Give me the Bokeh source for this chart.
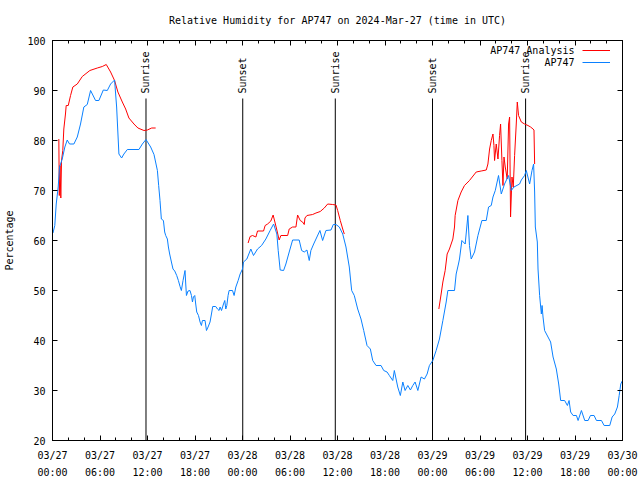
import numpy as np
import pandas as pd
from math import pi
from bokeh.plotting import figure
from bokeh.models import (Range1d, FixedTicker, DatetimeTickFormatter, DatetimeAxis,
                          LinearAxis, Legend, LegendItem, Label, ColumnDataSource)
from bokeh.core.properties import value
from bokeh.embed import file_html
from bokeh.resources import INLINE

# ---------------- data ----------------
title_text = "Relative Humidity for AP747 on 2024-Mar-27 (time in UTC)"
start_time = "2024-03-27 00:00"
span_hours = 72

# AP747 observations: hours after start, relative humidity (%)
obs_hours = [0.06, 0.29, 0.47, 0.72, 0.89, 1.23, 1.56, 1.86, 2.15, 2.70, 3.13, 3.54, 3.96, 4.39,
             4.81, 5.44, 5.86, 6.42, 6.92, 7.34, 7.84, 8.10, 8.39, 8.73, 9.02, 9.45, 10.92, 11.35,
             11.81, 12.40, 12.82, 13.25, 13.41, 13.58, 13.75, 14.01, 14.17, 14.30, 14.51, 14.64,
             14.80, 15.02, 15.22, 15.44, 15.69, 15.90, 16.11, 16.28, 16.49, 16.74, 16.83, 16.92,
             17.12, 17.37, 17.55, 17.68, 17.80, 17.97, 18.09, 18.22, 18.44, 18.64, 18.81, 18.94,
             19.27, 19.45, 19.65, 19.90, 20.08, 20.24, 20.62, 20.84, 21.04, 21.17, 21.35, 21.60,
             21.76, 21.89, 22.02, 22.18, 22.31, 22.74, 22.94, 23.16, 23.45, 23.70, 24.00, 24.13,
             24.55, 25.05, 25.39, 25.90, 26.41, 26.95, 27.49, 27.93, 28.34, 28.51, 28.76, 29.19,
             29.48, 29.90, 30.33, 31.16, 31.47, 31.80, 32.14, 32.43, 32.64, 32.99, 33.40, 33.78,
             34.12, 34.54, 35.18, 35.47, 35.81, 36.23, 36.66, 37.07, 37.49, 37.79, 38.12, 38.55,
             38.97, 39.31, 39.73, 40.15, 40.45, 40.87, 41.50, 41.84, 42.26, 42.55, 42.98, 43.18,
             43.61, 43.94, 44.25, 44.54, 44.88, 45.21, 45.51, 45.80, 46.15, 46.56, 46.98, 47.32,
             47.61, 48.04, 48.46, 48.88, 49.31, 49.73, 49.94, 50.78, 50.99, 51.28, 51.41, 51.71,
             52.13, 52.47, 52.67, 52.89, 53.31, 53.74, 54.24, 54.79, 55.08, 55.42, 55.64, 55.93,
             56.34, 56.69, 57.10, 57.61, 57.95, 58.29, 59.00, 59.22, 59.63, 59.85, 60.27, 60.57,
             60.77, 60.90, 60.99, 61.24, 61.33, 61.53, 61.75, 61.84, 61.96, 62.16, 62.59, 62.92,
             63.23, 63.64, 63.94, 64.19, 64.69, 65.04, 65.25, 65.45, 65.76, 66.18, 66.39, 66.81,
             67.23, 67.66, 67.95, 68.41, 68.71, 69.34, 69.68, 70.39, 70.69, 71.02, 71.36, 71.58,
             71.78, 72.00]
obs_rh = [61.5, 63, 67.3, 70.7, 74.7, 76.3, 78.7, 80.1, 79.3, 79.3, 80.7, 83.3, 86.7, 87.2,
          90, 88, 88, 90.1, 90, 91.3, 92.1, 86.7, 77.3, 76.5, 77.3, 78.2, 78.2, 79.3,
          80.2, 78.7, 77.2, 74, 71, 68, 64.3, 64, 61.7, 61, 60.3, 58.7,
          57.3, 55.7, 54.3, 53.9, 53, 52, 50.8, 50, 52, 54, 51.3, 49,
          49.9, 50, 49, 47.7, 48.7, 49, 47.3, 45.7, 45, 43.7, 43, 44,
          44, 42, 42.7, 43.7, 45.3, 46.8, 46.8, 46.3, 46, 46.7, 46, 47.3,
          48, 46.3, 47, 49, 50, 50, 49, 50.7, 52, 53.3, 54.3, 55.7,
          56.3, 58.3, 57, 58.3, 59, 60.3, 62, 63.3, 61.3, 58, 54.1, 54,
          55.3, 57.7, 60.1, 60.1, 58, 57.7, 58.1, 56, 58, 59.3, 60.7, 62,
          60, 62, 62.1, 63.2, 63.2, 62.7, 61.3, 58.7, 54.7, 50, 49, 46.3,
          44.3, 42, 39, 38.3, 36, 35, 35, 34, 33.7, 33, 32, 34,
          30.7, 29, 31.7, 30, 31, 30.1, 31, 31.7, 30, 32.7, 32.3, 33.3,
          35, 36, 38, 40.3, 44, 47.7, 50, 50, 53.3, 55.3, 56.3, 60,
          59.3, 65, 59, 56.3, 57.7, 61, 64, 64, 66.7, 67, 68.7, 70,
          73, 69.3, 71.3, 73, 70, 70.7, 71.3, 72.1, 73, 74, 71.3, 74,
          75.3, 69.7, 62.7, 59.7, 54.3, 49, 45.3, 47, 44.7, 42, 40.7, 39.7,
          36.7, 34.3, 31.3, 28, 28, 27, 28, 25.7, 25, 25, 24, 26,
          24, 24, 25, 25, 24, 24, 23, 23, 24.7, 25.3, 26.7, 29,
          31.3, 32]

# AP747 analysis: three separate pieces
ana1_hours = [0.80, 0.86, 0.95, 1.05, 1.14, 1.30, 1.43, 1.64, 1.73, 1.99, 2.28, 2.57, 3.13, 3.76,
              4.72, 5.66, 6.29, 6.79, 7.34, 7.84, 8.26, 8.82, 9.24, 9.65, 10.29, 10.79, 11.55,
              11.98, 12.53, 13.03]
ana1_rh = [80.3, 69, 75, 68.5, 76, 78, 82.3, 85.3, 87, 87, 89, 90.7, 91.3, 92.8,
           94, 94.5, 94.8, 95.2, 93.7, 92, 89.7, 87.7, 86.3, 84.5, 83.3, 82.5, 82,
           82.1, 82.5, 82.5]
ana2_hours = [24.71, 24.96, 25.27, 25.69, 25.90, 26.66, 26.86, 27.17, 27.58, 27.87, 28.09, 28.34,
              28.63, 28.85, 29.70, 29.90, 30.33, 30.75, 30.96, 31.29, 31.59, 31.80, 31.89, 32.14,
              32.86, 33.28, 33.82, 34.33, 34.76, 35.39, 35.81, 36.02, 36.35, 36.66, 36.86]
ana2_rh = [59.5, 60.8, 61, 60.7, 61.9, 61.9, 63, 63.3, 63.9, 65.1, 63.7, 62.1,
           60.1, 61, 61, 62.3, 62.7, 62.7, 65.1, 64, 63.7, 63.2, 64.5, 65,
           65.2, 65.5, 65.8, 66.5, 67.3, 67.2, 67.1, 66, 64, 62.3, 61.3]
ana3_hours = [48.80, 49.09, 49.31, 49.60, 49.85, 50.14, 50.57, 50.78, 50.86, 51.21, 51.62, 52.04,
              52.67, 53.52, 54.15, 54.79, 55.00, 55.21, 55.42, 55.64, 55.76, 55.84, 56.05, 56.27,
              56.47, 56.60, 56.77, 56.90, 57.03, 57.19, 57.44, 57.61, 57.74, 57.86, 58.04, 58.20,
              58.37, 58.58, 58.71, 58.87, 59.22, 59.63, 60.06, 60.39, 60.70, 60.82, 60.90]
ana3_rh = [46.3, 49.3, 51.7, 54, 57.3, 58.3, 60.3, 62.7, 65, 68, 69.7, 71,
           72, 73.7, 73.9, 74.1, 75.3, 78.3, 80, 81.3, 79, 76, 79.3, 76.3,
           81, 83.3, 76, 71, 76.7, 74.7, 72.3, 83.3, 84.7, 64.7, 72.7, 70.7,
           77, 83.3, 87.7, 85, 83.7, 83.3, 83, 82.7, 82.3, 82.1, 75.3]

event_hours = [11.81, 24.03, 35.72, 48.00, 59.76]
event_names = ["Sunrise", "Sunset", "Sunrise", "Sunset", "Sunrise"]

y_ticks = [20, 30, 40, 50, 60, 70, 80, 90, 100]
x_major_step_h = 6
x_minor_step_h = 2
legend_names = ["AP747 Analysis", "AP747"]

# ---------------- helpers ----------------
t0 = pd.Timestamp(start_time).value / 1e6  # ms
HOUR = 3600000.0


def ms(hours):
    return [t0 + h * HOUR for h in hours]


red_x, red_y = [], []
for hs, vs in [(ana1_hours, ana1_rh), (ana2_hours, ana2_rh), (ana3_hours, ana3_rh)]:
    if red_x:
        red_x.append(ms([hs[0]])[0])
        red_y.append(np.nan)
    red_x.extend(ms(hs))
    red_y.extend(vs)

FONT = "DejaVu Sans Mono"
BLUE = "#0a80ff"
RED = "#ff0000"

p = figure(frame_width=570, frame_height=400, x_axis_type="datetime", output_backend="svg",
           toolbar_location=None,
           x_range=Range1d(t0, t0 + span_hours * HOUR), y_range=Range1d(y_ticks[0], y_ticks[-1]),
           min_border_left=52, min_border_right=18, min_border_top=40, min_border_bottom=40)
p.background_fill_color = "white"
p.border_fill_color = "white"
p.outline_line_color = "black"
p.outline_line_width = 1
p.grid.visible = False

p.title.text = title_text
p.title.text_font = FONT
p.title.text_font_size = "10px"
p.title.text_font_style = "normal"
p.title.text_color = "black"
p.title.align = "center"
p.title.vertical_align = "top"
p.title.standoff = 26

major_ms = ms(list(range(0, span_hours + 1, x_major_step_h)))
minor_ms = ms(list(range(0, span_hours + 1, x_minor_step_h)))
xt = FixedTicker(ticks=major_ms, minor_ticks=minor_ms)
fmt_str = "%m/%d\n%H:%M"
xfmt = DatetimeTickFormatter(microseconds=fmt_str, milliseconds=fmt_str, seconds=fmt_str,
                             minsec=fmt_str, minutes=fmt_str, hourmin=fmt_str, hours=fmt_str,
                             days=fmt_str, months=fmt_str, years=fmt_str)
yt = FixedTicker(ticks=y_ticks, minor_ticks=[])


def style_axis(ax, minor=True):
    ax.axis_line_color = "black"
    ax.major_tick_line_color = "black"
    ax.minor_tick_line_color = "black"
    ax.major_tick_in = 5
    ax.major_tick_out = 0
    ax.minor_tick_in = 3 if minor else 0
    ax.minor_tick_out = 0
    ax.major_label_text_font = FONT
    ax.major_label_text_font_size = "10px"
    ax.major_label_text_color = "black"


xa = p.xaxis[0]
xa.ticker = xt
xa.formatter = xfmt
style_axis(xa)
xa.axis_label = None
xa.major_label_standoff = 9
xa.major_label_text_line_height = 1.55

ya = p.yaxis[0]
ya.ticker = yt
style_axis(ya, minor=False)
ya.major_label_standoff = 7
ya.axis_label = "Percentage"
ya.axis_label_text_font = FONT
ya.axis_label_text_font_size = "10px"
ya.axis_label_text_font_style = "normal"
ya.axis_label_text_color = "black"
ya.axis_label_standoff = 9

top = DatetimeAxis(ticker=xt, formatter=xfmt)
style_axis(top)
top.major_label_text_font_size = "0px"
top.major_label_standoff = 0
p.add_layout(top, "above")

right = LinearAxis(ticker=yt)
style_axis(right, minor=False)
right.major_label_text_font_size = "0px"
right.major_label_standoff = 0
p.add_layout(right, "right")

# event markers
ev = ColumnDataSource(dict(x=ms(event_hours), name=event_names))
p.segment(x0="x", y0=20, x1="x", y1=88.4, source=ev, line_color="black", line_width=1)
p.text(x="x", y=89.4, text="name", source=ev, angle=pi / 2, text_align="left",
       text_baseline="middle", text_font=value(FONT), text_font_size="10px", text_color="black")

# series
r_red = p.line(red_x, red_y, line_color=RED, line_width=1)
r_blue = p.line(ms(obs_hours), obs_rh, line_color=BLUE, line_width=1)

legend = Legend(items=[LegendItem(label=value(""), renderers=[r_red]),
                       LegendItem(label=value(""), renderers=[r_blue])],
                location=(530, 372), glyph_width=28, glyph_height=12, label_width=0,
                label_height=12, label_standoff=0, spacing=0, padding=0, margin=0,
                label_text_font_size="10px",
                border_line_alpha=0, background_fill_alpha=0)
p.add_layout(legend)
for i, name in enumerate(legend_names):
    p.add_layout(Label(x=522, y=390 - 12 * i, x_units="screen", y_units="screen", text=name,
                       text_align="right", text_baseline="middle", text_font=FONT,
                       text_font_size="10px", text_color="black"))

open("out.html", "w").write(file_html(p, INLINE))
